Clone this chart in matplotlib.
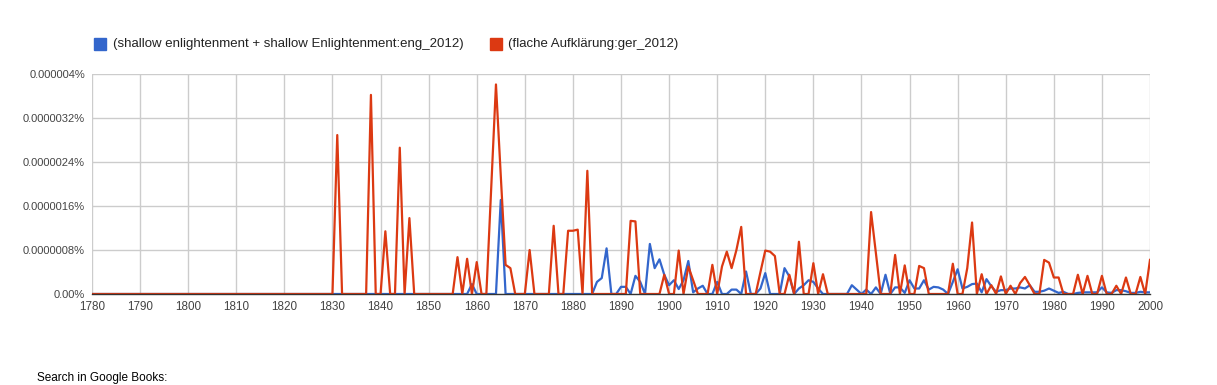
import numpy as np
import matplotlib
matplotlib.use("Agg")
from matplotlib import pyplot as plt

# yearly values, in millionths of a percent (1e-6 %)
years = np.arange(1780, 2001)

# (shallow enlightenment + shallow Enlightenment:eng_2012), nonzero years
eng_points = {
    1859: 0.18, 1865: 1.71,
    1885: 0.22, 1886: 0.29, 1887: 0.83, 1890: 0.13, 1891: 0.13, 1893: 0.33,
    1894: 0.22, 1896: 0.91, 1897: 0.47, 1898: 0.63, 1899: 0.35, 1900: 0.16,
    1901: 0.25, 1902: 0.09, 1903: 0.25, 1904: 0.60, 1905: 0.03, 1906: 0.10,
    1907: 0.15, 1910: 0.22, 1913: 0.08, 1914: 0.08, 1916: 0.41, 1919: 0.10,
    1920: 0.38, 1924: 0.47, 1925: 0.32, 1927: 0.10, 1928: 0.16, 1929: 0.25,
    1930: 0.22, 1931: 0.10, 1938: 0.16, 1939: 0.08, 1941: 0.08, 1943: 0.12,
    1945: 0.35, 1947: 0.12, 1948: 0.12, 1949: 0.02, 1950: 0.25, 1951: 0.10,
    1952: 0.10, 1953: 0.25, 1954: 0.08, 1955: 0.13, 1956: 0.12, 1957: 0.08,
    1959: 0.22, 1960: 0.45, 1961: 0.10, 1962: 0.13, 1963: 0.18, 1964: 0.19,
    1965: 0.03, 1966: 0.27, 1967: 0.14, 1968: 0.04, 1969: 0.07, 1970: 0.07,
    1971: 0.10, 1972: 0.10, 1973: 0.12, 1974: 0.10, 1975: 0.16, 1976: 0.04,
    1977: 0.04, 1978: 0.06, 1979: 0.10, 1980: 0.06, 1981: 0.02, 1982: 0.04,
    1985: 0.02, 1986: 0.03, 1987: 0.03, 1988: 0.03, 1989: 0.03, 1990: 0.12,
    1991: 0.03, 1992: 0.02, 1993: 0.07, 1994: 0.07, 1995: 0.05, 1996: 0.02,
    1997: 0.02, 1998: 0.04, 1999: 0.03, 2000: 0.03,
}

# (flache Aufklärung:ger_2012), nonzero years
ger_points = {
    1831: 2.89, 1838: 3.62, 1841: 1.14, 1844: 2.66, 1846: 1.38,
    1856: 0.67, 1858: 0.64, 1860: 0.58, 1863: 1.90, 1864: 3.81, 1865: 2.15,
    1866: 0.53, 1867: 0.47, 1871: 0.80, 1876: 1.24, 1879: 1.15, 1880: 1.15,
    1881: 1.17, 1883: 2.24, 1892: 1.33, 1893: 1.32, 1899: 0.35, 1902: 0.79,
    1904: 0.50, 1905: 0.25, 1909: 0.53, 1911: 0.50, 1912: 0.77, 1913: 0.47,
    1914: 0.80, 1915: 1.22, 1919: 0.40, 1920: 0.79, 1921: 0.77, 1922: 0.69,
    1925: 0.35, 1927: 0.95, 1930: 0.56, 1932: 0.36, 1942: 1.49, 1943: 0.75,
    1947: 0.71, 1949: 0.52, 1952: 0.51, 1953: 0.47, 1959: 0.55, 1962: 0.47,
    1963: 1.30, 1965: 0.36, 1967: 0.16, 1969: 0.32, 1971: 0.15, 1973: 0.20,
    1974: 0.31, 1975: 0.16, 1978: 0.62, 1979: 0.57, 1980: 0.30, 1981: 0.30,
    1985: 0.35, 1987: 0.33, 1990: 0.33, 1993: 0.15, 1995: 0.30, 1998: 0.31,
    2000: 0.62,
}

eng = np.array([eng_points.get(y, 0.0) for y in years]) * 1e-6
ger = np.array([ger_points.get(y, 0.0) for y in years]) * 1e-6

labels = ["(shallow enlightenment + shallow Enlightenment:eng_2012)",
          "(flache Aufklärung:ger_2012)"]
colors = ["#3366cc", "#dc3912"]

y_ticks = [0, 0.8e-6, 1.6e-6, 2.4e-6, 3.2e-6, 4.0e-6]
y_tick_labels = ["0.00%", "0.0000008%", "0.0000016%", "0.0000024%",
                 "0.0000032%", "0.000004%"]
x_ticks = list(range(1780, 2001, 10))

plt.rcParams['font.family'] = ['Liberation Sans', 'DejaVu Sans']

fig = plt.figure(figsize=(12.17, 3.85), dpi=100)
ax = fig.add_axes([92 / 1217, 1 - 294 / 385, (1150 - 92) / 1217, 220 / 385])

ax.plot(years, eng, color=colors[0], lw=1.6, zorder=3)
ax.plot(years, ger, color=colors[1], lw=1.6, zorder=3)

ax.set_xlim(1780, 2000)
ax.set_ylim(0, 4e-6)
ax.set_xticks(x_ticks)
ax.set_xticklabels([str(x) for x in x_ticks], fontsize=8.4, color="#444444")
ax.set_yticks(y_ticks)
ax.set_yticklabels(y_tick_labels, fontsize=8, color="#444444")
ax.tick_params(axis='both', length=0, pad=5)
ax.tick_params(axis='x', pad=5)
ax.grid(True, color="#cccccc", lw=1)
ax.set_axisbelow(True)
for side in ['top', 'right', 'left']:
    ax.spines[side].set_visible(False)
ax.spines['bottom'].set_color("#333333")
ax.spines['bottom'].set_linewidth(1)
ax.spines['bottom'].set_zorder(4)

# legend drawn along the top, google-chart style
sq_y = 1 - 44 / 385
fig.patches.append(plt.Rectangle((94 / 1217, sq_y - 6 / 385), 12 / 1217, 12 / 385,
                                 transform=fig.transFigure, color=colors[0]))
fig.text(113 / 1217, sq_y, labels[0], fontsize=9.5, va='center', color="#222222")
fig.patches.append(plt.Rectangle((490 / 1217, sq_y - 6 / 385), 12 / 1217, 12 / 385,
                                 transform=fig.transFigure, color=colors[1]))
fig.text(508 / 1217, sq_y, labels[1], fontsize=9.5, va='center', color="#222222")

fig.text(37 / 1217, 1 / 385, "Search in Google Books:", fontsize=8.5,
         va='bottom', color="#000000")

fig.savefig("out.png", dpi=100)
